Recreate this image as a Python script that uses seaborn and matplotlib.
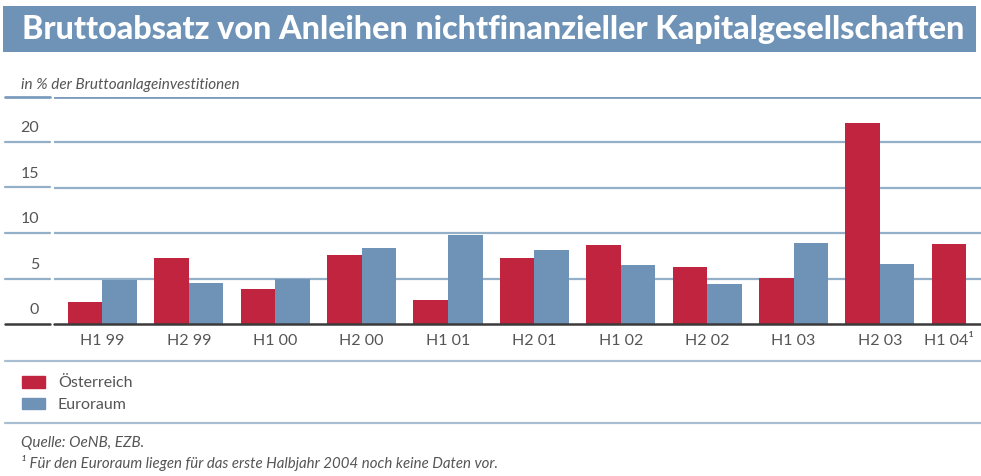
import matplotlib
matplotlib.use("Agg")
import matplotlib.pyplot as plt
import seaborn as sns
import pandas as pd
import numpy as np
from matplotlib.patches import Rectangle
from matplotlib.lines import Line2D

categories = ["H1 99", "H2 99", "H1 00", "H2 00", "H1 01", "H2 01",
              "H1 02", "H2 02", "H1 03", "H2 03", "H1 04"]
tick_labels = ["H1 99", "H2 99", "H1 00", "H2 00", "H1 01", "H2 01",
               "H1 02", "H2 02", "H1 03", "H2 03", "H1 04¹"]
oesterreich = [2.45, 7.3, 3.9, 7.6, 2.6, 7.3, 8.7, 6.3, 5.1, 22.1, 8.8]
euroraum = [4.85, 4.55, 5.0, 8.3, 9.8, 8.1, 6.5, 4.4, 8.9, 6.6, np.nan]
series_names = ["Österreich", "Euroraum"]
y_ticks = [0, 5, 10, 15, 20]

title = "Bruttoabsatz von Anleihen nichtfinanzieller Kapitalgesellschaften"
subtitle = "in % der Bruttoanlageinvestitionen"
source = "Quelle: OeNB, EZB."
footnote = "¹ Für den Euroraum liegen für das erste Halbjahr 2004 noch keine Daten vor."

RED = "#c0243e"
BLUE = "#6f93b6"
GRID = "#94b0c9"
TXT = "#555555"

df = pd.DataFrame({
    "Periode": categories * 2,
    "Serie": [series_names[0]] * len(categories) + [series_names[1]] * len(categories),
    "Wert": oesterreich + euroraum,
})

sns.set_theme(style="white")
plt.rcParams["font.family"] = ["Lato", "DejaVu Sans"]

W, H = 981, 476
fig = plt.figure(figsize=(W / 100, H / 100), dpi=100)

def fx(px):
    return px / W

def fy(py):
    return 1 - py / H

# axes geometry (pixels)
ax_left, ax_right, ax_top, ax_bottom = 54, 981, 96.5, 324
ax = fig.add_axes([fx(ax_left), fy(ax_bottom), fx(ax_right - ax_left), fy(ax_top) - fy(ax_bottom)])

sns.barplot(data=df, x="Periode", y="Wert", hue="Serie", order=categories,
            hue_order=series_names, palette=[RED, BLUE], width=0.8,
            saturation=1, ax=ax, legend=False, errorbar=None, linewidth=0)
ax.set_xlim(-0.56, 10.17)
ax.set_ylim(0, 25)
for s in ax.spines.values():
    s.set_visible(False)
ax.set_xlabel("")
ax.set_ylabel("")
ax.set_yticks([])
ax.tick_params(axis="both", length=0)

# gridlines
for v in [5, 10, 15, 20, 25]:
    c = GRID if v < 25 else "#7b9cbd"
    lw = 1.6 if v < 25 else 2.0
    ax.axhline(v, color=c, lw=lw, zorder=0)
    ypx = ax_bottom - v * (ax_bottom - ax_top) / 25
    fig.add_artist(Line2D([fx(5), fx(50)], [fy(ypx), fy(ypx)], color=c, lw=lw))
ax.axhline(0, color="#3a3a3a", lw=1.8, zorder=5, clip_on=False)
fig.add_artist(Line2D([fx(5), fx(50)], [fy(ax_bottom), fy(ax_bottom)], color="#3a3a3a", lw=1.8))

# y labels above gridlines
for v in y_ticks:
    ax.annotate(str(v), xy=(fx(39), v), xycoords=("figure fraction", "data"),
                xytext=(0, 5), textcoords="offset points", ha="right", va="bottom",
                fontsize=11.5, color=TXT, annotation_clip=False)

# x tick labels
pos = list(range(len(categories)))
pos[-1] = pos[-1] - 0.2
ax.set_xticks(pos)
ax.set_xticklabels(tick_labels, fontsize=11.5, color=TXT)
ax.tick_params(axis="x", pad=7)

# title banner
fig.add_artist(Rectangle((fx(3), fy(52)), fx(973), fy(6) - fy(52), color=BLUE, lw=0))
t = fig.text(fx(22), fy(29), title, color="white", fontsize=16, fontweight="black",
             ha="left", va="center", family=["Lato", "DejaVu Sans"])
fig.canvas.draw()
bb = t.get_window_extent()
t.set_fontsize(16 * 940 / bb.width)

fig.text(fx(21), fy(85), subtitle, fontsize=11, style="italic", color=TXT,
         ha="left", va="center")

# separators
for ypx in [361, 423]:
    fig.add_artist(Line2D([fx(5), fx(981)], [fy(ypx), fy(ypx)], color="#a9bfd1", lw=1.6))

# legend
handles = [Rectangle((0, 0), 1, 1, color=RED), Rectangle((0, 0), 1, 1, color=BLUE)]
fig.legend(handles, series_names, loc="upper left", bbox_to_anchor=(fx(14), fy(368)),
           frameon=False, handlelength=1.45, handleheight=0.75,
           handletextpad=0.8, labelspacing=0.45, borderpad=0, labelcolor=TXT,
           prop={"size": 11.5})

fig.text(fx(21), fy(443), source, fontsize=11, style="italic", color=TXT,
         ha="left", va="center")
fig.text(fx(21), fy(463), footnote, fontsize=10.8, style="italic", color=TXT,
         ha="left", va="center")

fig.savefig("out.png", dpi=100)
